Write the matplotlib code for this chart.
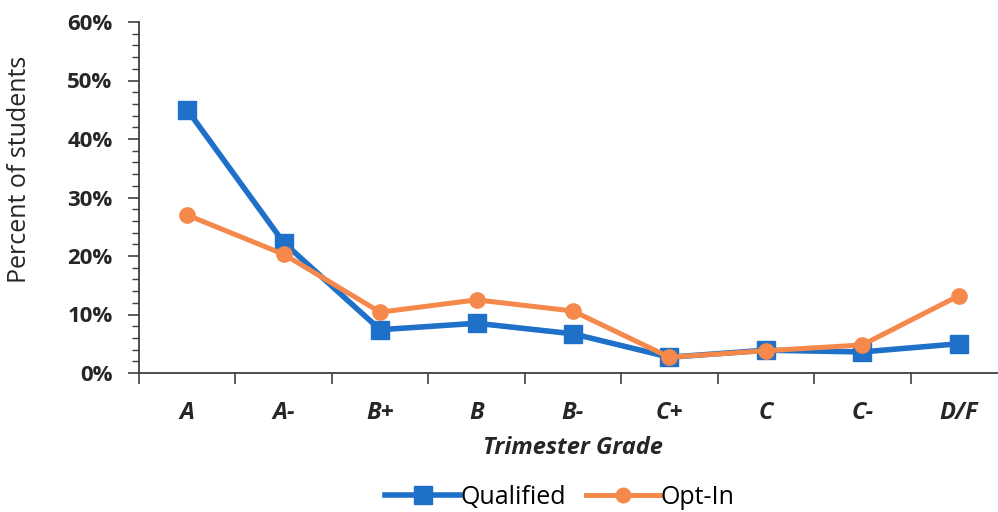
import matplotlib.pyplot as plt
import numpy as np
from matplotlib.ticker import FixedLocator, MultipleLocator, PercentFormatter

plt.rcParams['font.family'] = ['Open Sans', 'DejaVu Sans']

# --- data ---
grades = ['A', 'A-', 'B+', 'B', 'B-', 'C+', 'C', 'C-', 'D/F']
qualified = [45.0, 22.3, 7.4, 8.5, 6.7, 2.7, 3.9, 3.6, 5.0]
opt_in = [27.0, 20.3, 10.4, 12.5, 10.6, 2.7, 3.8, 4.8, 13.2]

blue = '#1F70C8'
orange = '#F5884B'
axis_col = '#404040'
text_col = '#262626'

fig = plt.figure(figsize=(9.98, 5.12), dpi=100)
# plot area runs past the right edge, like the cropped original
ax = fig.add_axes([139 / 998, 139 / 512, 868 / 998, 351 / 512])

x = np.arange(len(grades))
ax.plot(x, qualified, color=blue, lw=4, marker='s', ms=13, label='Qualified', zorder=3)
ax.plot(x, opt_in, color=orange, lw=3.6, marker='o', ms=11, label='Opt-In', zorder=4)

ax.set_xlim(-0.5, len(grades) - 0.5)
ax.set_ylim(0, 60)

# y axis: majors every 10%, minors every 2%
ax.yaxis.set_major_locator(MultipleLocator(10))
ax.yaxis.set_minor_locator(MultipleLocator(2))
ax.yaxis.set_major_formatter(PercentFormatter(decimals=0))
ax.tick_params(axis='y', which='major', length=8, width=1.2, color=axis_col,
               labelsize=16, pad=11)
ax.tick_params(axis='y', which='minor', length=5, width=1.0, color=axis_col)
for lab in ax.get_yticklabels():
    lab.set_fontweight('bold')
    lab.set_color(text_col)

# x axis: labels at categories, tick marks between them
ax.xaxis.set_major_locator(FixedLocator(x))
ax.set_xticklabels(grades, fontsize=17, fontweight='bold', fontstyle='italic', color=text_col)
ax.xaxis.set_minor_locator(FixedLocator(np.arange(-0.5, len(grades), 1.0)))
ax.tick_params(axis='x', which='major', length=0, pad=20)
ax.tick_params(axis='x', which='minor', length=8, width=1.2, color=axis_col)

for side in ['top', 'right']:
    ax.spines[side].set_visible(False)
for side in ['left', 'bottom']:
    ax.spines[side].set_color(axis_col)
    ax.spines[side].set_linewidth(1.3)

ax.set_xlabel('Trimester Grade', fontsize=17, fontweight='bold', fontstyle='italic',
              color=text_col, labelpad=8)
fig.text(20 / 998, 1 - 169 / 512, 'Percent of students', rotation=90, fontsize=18,
         color=text_col, ha='center', va='center')

fig.legend(loc='center', bbox_to_anchor=(560 / 998, 1 - 497 / 512), ncol=2, frameon=False,
           fontsize=18, handlelength=3.0, columnspacing=0.8, handletextpad=0.0,
           markerscale=0.95)

fig.savefig('out.png', dpi=100)
